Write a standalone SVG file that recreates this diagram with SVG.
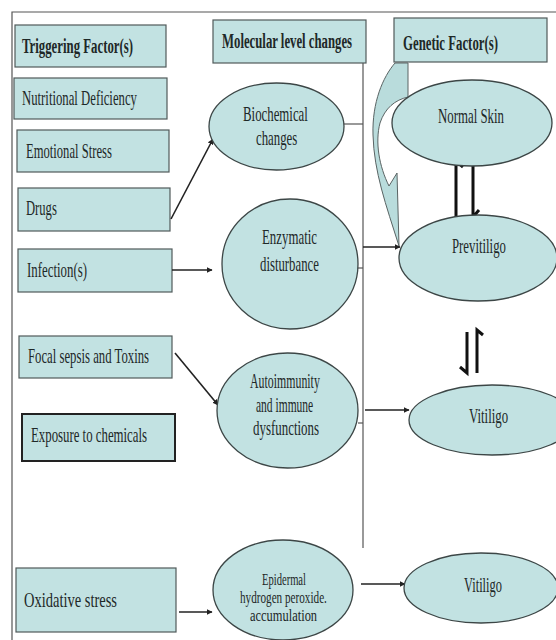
<svg xmlns="http://www.w3.org/2000/svg" width="556" height="640" viewBox="0 0 556 640">
<defs>
<style>
.bx{fill:#c2e2e2;stroke:#505a5a;stroke-width:1.2}
.el{fill:#c2e2e2;stroke:#3c4646;stroke-width:1.3}
.t{font-family:"Liberation Serif","Times New Roman",serif;fill:#1e2828;font-size:22px}
.e{font-size:22px}
.b{font-size:21px}
.s{font-size:17px}
.h{font-weight:bold}
.ln{stroke:#222;stroke-width:1.6;fill:none}
.fr{stroke:#555;stroke-width:1.2;fill:none}
.eq{stroke:#111;stroke-width:3;fill:none}
</style>
<marker id="ah" viewBox="0 0 10 10" refX="9" refY="5" markerWidth="6" markerHeight="6" orient="auto" markerUnits="userSpaceOnUse">
<path d="M0,0 L10,5 L0,10 Z" fill="#222"/>
</marker>
</defs>
<rect width="556" height="640" fill="#fff"/>
<path class="fr" d="M12,640 L12,12 L556,12"/>
<line class="fr" x1="363" y1="63" x2="363" y2="548"/>

<g id="n-trig"><rect class="bx" x="15" y="25" width="151" height="42"/><text class="t h" transform="translate(22,53) scale(0.5,1)" textLength="222" lengthAdjust="spacingAndGlyphs">Triggering Factor(s)</text></g>
<g id="n-nutri"><rect class="bx" x="14" y="78" width="153" height="41"/><text class="t" transform="translate(22,105) scale(0.55,1)" textLength="209" lengthAdjust="spacingAndGlyphs">Nutritional Deficiency</text></g>
<g id="n-emo"><rect class="bx" x="17" y="130" width="152" height="42"/><text class="t" transform="translate(26,158) scale(0.55,1)" textLength="156" lengthAdjust="spacingAndGlyphs">Emotional Stress</text></g>
<g id="n-drugs"><rect class="bx" x="18" y="188" width="152" height="43"/><text class="t" transform="translate(26,215) scale(0.55,1)" textLength="56" lengthAdjust="spacingAndGlyphs">Drugs</text></g>
<g id="n-inf"><rect class="bx" x="18" y="249" width="154" height="43"/><text class="t" transform="translate(27,277) scale(0.55,1)" textLength="109" lengthAdjust="spacingAndGlyphs">Infection(s)</text></g>
<g id="n-focal"><rect class="bx" x="19" y="336" width="153" height="42"/><text class="t" transform="translate(28,363) scale(0.55,1)" textLength="220" lengthAdjust="spacingAndGlyphs">Focal sepsis and Toxins</text></g>
<g id="n-expo"><rect class="bx" x="22" y="414" width="153" height="47" style="stroke:#222;stroke-width:2"/><text class="t" transform="translate(31,442) scale(0.55,1)" textLength="211" lengthAdjust="spacingAndGlyphs">Exposure to chemicals</text></g>
<g id="n-oxi"><rect class="bx" x="16" y="568" width="160" height="64"/><text class="t" transform="translate(24,607) scale(0.55,1)" textLength="169" lengthAdjust="spacingAndGlyphs">Oxidative stress</text></g>

<g id="connectors">
<path d="M395,63 C383,77 372,102 373,135 C374,172 386,205 399,246 L397,173 L389,186 C379,166 375,142 380,123 C385,108 395,100 408,97 L408,63 Z" fill="#b9dcdc" stroke="#5a6464" stroke-width="1"/>
<line class="ln" x1="171" y1="219" x2="213" y2="139" marker-end="url(#ah)"/>
<line class="ln" x1="172" y1="270" x2="212" y2="270" marker-end="url(#ah)"/>
<line class="ln" x1="175" y1="353" x2="218" y2="405" marker-end="url(#ah)"/>
<line class="ln" x1="179" y1="612" x2="212" y2="612" marker-end="url(#ah)"/>
<line class="fr" x1="344" y1="124" x2="363" y2="124"/>
<line class="fr" x1="357" y1="268" x2="363" y2="268"/>
<line class="fr" x1="358" y1="423" x2="363" y2="423"/>
<line class="ln" x1="363" y1="247" x2="400" y2="247" marker-end="url(#ah)"/>
<line class="ln" x1="365" y1="410" x2="409" y2="410" marker-end="url(#ah)"/>
<line class="ln" x1="361" y1="584" x2="405" y2="584" marker-end="url(#ah)"/>
<path class="eq" d="M463,167 L456,161 L456,217"/>
<path class="eq" d="M473,163 L473,217 L479,210"/>
<path class="eq" d="M460,367 L467,373 L467,332"/>
<path class="eq" d="M483,335 L477,330 L477,373"/>
</g>

<g id="n-mol"><rect class="bx" x="213" y="20" width="153" height="43"/><text class="t h" transform="translate(222,48) scale(0.5,1)" textLength="260" lengthAdjust="spacingAndGlyphs">Molecular level changes</text></g>
<g id="n-gen"><rect class="bx" x="394" y="18" width="153" height="44"/><text class="t h" transform="translate(403,50) scale(0.5,1)" textLength="190" lengthAdjust="spacingAndGlyphs">Genetic Factor(s)</text></g>

<g id="n-bio"><ellipse class="el" cx="276.5" cy="126.5" rx="67.5" ry="43.5"/><text class="t b" transform="translate(243,121) scale(0.55,1)" textLength="118" lengthAdjust="spacingAndGlyphs">Biochemical</text><text class="t b" transform="translate(256,145) scale(0.55,1)" textLength="75" lengthAdjust="spacingAndGlyphs">changes</text></g>
<g id="n-enz"><ellipse class="el" cx="290" cy="264" rx="68" ry="65"/><text class="t e" transform="translate(262,244) scale(0.55,1)" textLength="100" lengthAdjust="spacingAndGlyphs">Enzymatic</text><text class="t e" transform="translate(260,271) scale(0.55,1)" textLength="107" lengthAdjust="spacingAndGlyphs">disturbance</text></g>
<g id="n-auto"><ellipse class="el" cx="287.5" cy="410.5" rx="70.5" ry="57.5"/><text class="t e" transform="translate(250,388) scale(0.55,1)" textLength="127" lengthAdjust="spacingAndGlyphs">Autoimmunity</text><text class="t e" transform="translate(256,412) scale(0.55,1)" textLength="104" lengthAdjust="spacingAndGlyphs">and immune</text><text class="t e" transform="translate(253,435) scale(0.55,1)" textLength="120" lengthAdjust="spacingAndGlyphs">dysfunctions</text></g>
<g id="n-epi"><ellipse class="el" cx="283" cy="590" rx="70" ry="50"/><text class="t s" transform="translate(262,585) scale(0.55,1)" textLength="80" lengthAdjust="spacingAndGlyphs">Epidermal</text><text class="t s" transform="translate(240,603) scale(0.55,1)" textLength="158" lengthAdjust="spacingAndGlyphs">hydrogen peroxide.</text><text class="t s" transform="translate(250,621) scale(0.55,1)" textLength="122" lengthAdjust="spacingAndGlyphs">accumulation</text></g>

<g id="n-normal"><ellipse class="el" cx="472" cy="123" rx="80" ry="43"/><text class="t e" transform="translate(438,123) scale(0.55,1)" textLength="120" lengthAdjust="spacingAndGlyphs">Normal Skin</text></g>
<g id="n-previ"><ellipse class="el" cx="478" cy="258" rx="79" ry="43"/><text class="t e" transform="translate(452,253) scale(0.55,1)" textLength="98" lengthAdjust="spacingAndGlyphs">Previtiligo</text></g>
<g id="n-viti1"><ellipse class="el" cx="492" cy="420" rx="83" ry="35"/><text class="t e" transform="translate(469,423) scale(0.55,1)" textLength="71" lengthAdjust="spacingAndGlyphs">Vitiligo</text></g>
<g id="n-viti2"><ellipse class="el" cx="481" cy="588" rx="77" ry="35"/><text class="t e" transform="translate(464,592) scale(0.55,1)" textLength="69" lengthAdjust="spacingAndGlyphs">Vitiligo</text></g>
</svg>
